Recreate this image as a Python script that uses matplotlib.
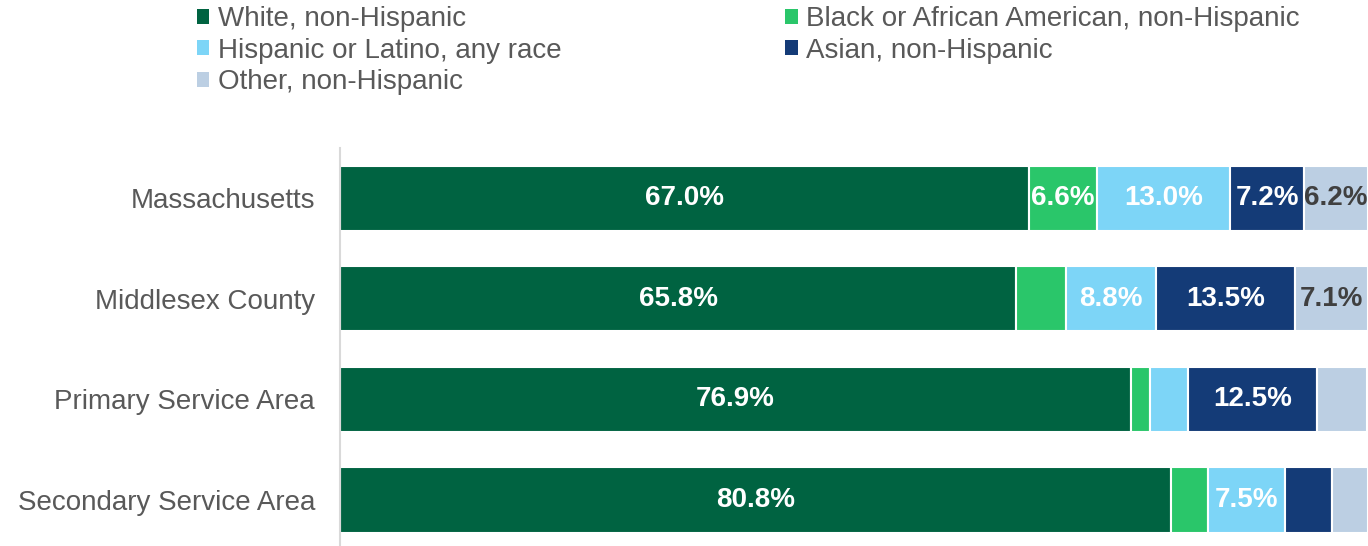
import numpy as np
import matplotlib.pyplot as plt
from matplotlib.patches import Patch

plt.rcParams['font.family'] = ['Liberation Sans', 'DejaVu Sans']

areas = ['Massachusetts', 'Middlesex County', 'Primary Service Area', 'Secondary Service Area']
groups = ['White, non-Hispanic', 'Black or African American, non-Hispanic',
          'Hispanic or Latino, any race', 'Asian, non-Hispanic', 'Other, non-Hispanic']
white = [67.0, 65.8, 76.9, 80.8]
black = [6.6, 4.8, 1.9, 3.6]
hispanic = [13.0, 8.8, 3.7, 7.5]
asian = [7.2, 13.5, 12.5, 4.6]
other = [6.2, 7.1, 4.9, 3.5]

colors = ['#006341', '#2AC66A', '#7DD5F7', '#143B77', '#BCCFE3']
label_colors = ['white', 'white', 'white', 'white', '#404040']
gray = '#595959'
fs = 20

fig = plt.figure(figsize=(13.68, 5.46), dpi=100)
ax = fig.add_axes([0.2485, 0.0, 0.7515, 0.729])

y = np.arange(len(areas))
left = np.zeros(len(areas))
for vals, c, tc in zip([white, black, hispanic, asian, other], colors, label_colors):
    vals = np.array(vals)
    ax.barh(y, vals, left=left, height=0.65, color=c, edgecolor='white', linewidth=1.5)
    for yi, l, v in zip(y, left, vals):
        if v >= 5:  # small segments are left unlabeled
            ax.text(l + v / 2, yi, f'{v:.1f}%', ha='center', va='center',
                    color=tc, fontsize=fs, fontweight='bold')
    left += vals

ax.set_xlim(0, 100)
ax.set_ylim(3.458, -0.5)
ax.set_yticks(y)
ax.set_yticklabels(areas, fontsize=fs, color=gray)
ax.tick_params(axis='y', length=0, pad=18)
ax.set_xticks([])
for s in ['top', 'right', 'bottom']:
    ax.spines[s].set_visible(False)
ax.spines['left'].set_color('#D9D9D9')
ax.spines['left'].set_linewidth(1.5)

order = [0, 2, 4, 1, 3]
handles = [Patch(facecolor=colors[i]) for i in order]
fig.legend(handles, [groups[i] for i in order], ncol=2, loc='upper left',
           bbox_to_anchor=(0.144, 0.989), frameon=False, fontsize=fs,
           labelcolor=gray, handlelength=0.45, handleheight=0.45,
           handletextpad=0.3, columnspacing=8.05, labelspacing=0.2,
           borderpad=0, borderaxespad=0)

fig.savefig('out.png', dpi=100)
